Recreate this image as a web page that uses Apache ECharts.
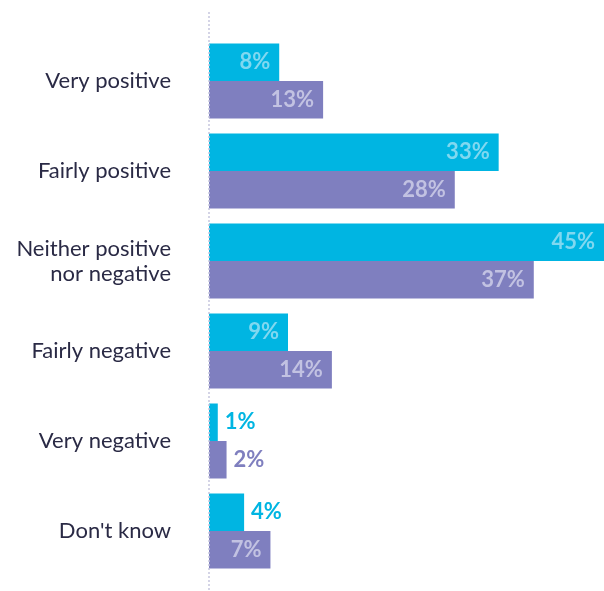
<!DOCTYPE html>
<html>
<head>
<meta charset="utf-8">
<script src="https://cdn.jsdelivr.net/npm/echarts@6/dist/echarts.min.js"></script>
<style>
  html, body { margin: 0; padding: 0; background: #fff; }
  #chart { width: 604px; height: 591px; }
</style>
</head>
<body>
<div id="chart"></div>
<script>
var categories = ['Very positive', 'Fairly positive', 'Neither positive\nnor negative', 'Fairly negative', 'Very negative', "Don't know"];
var seriesA = [8, 33, 45, 9, 1, 4];   // cyan
var seriesB = [13, 28, 37, 14, 2, 7]; // purple

var cyan = '#00b5e2';
var purple = '#7f7fbf';

var chart = echarts.init(document.getElementById('chart'));

function makeData(values, color, insideColor) {
    return values.map(function (v) {
        var small = v < 5;
        return {
            value: v,
            label: {
                position: small ? 'right' : 'insideRight',
                distance: small ? 7 : 9,
                color: small ? color : insideColor
            }
        };
    });
}

var labelFont = {
    show: true,
    formatter: '{c}%',
    fontFamily: 'Lato',
    fontWeight: 'bold',
    fontSize: 22
};

option = {
    animation: false,
    grid: {
        left: 209,
        right: 0,
        top: 36,
        height: 540
    },
    xAxis: {
        type: 'value',
        min: 0,
        max: 45,
        show: false
    },
    yAxis: {
        type: 'category',
        inverse: true,
        data: categories,
        axisLine: { show: false },
        axisTick: { show: false },
        axisLabel: {
            margin: 38,
            fontFamily: 'Lato',
            fontSize: 22,
            lineHeight: 25,
            color: '#2a2a45',
            align: 'right'
        }
    },
    graphic: [{
        type: 'line',
        shape: { x1: 209, y1: 12, x2: 209, y2: 590 },
        style: { stroke: '#c6c6de', lineWidth: 1.5, lineDash: [2, 2] },
        z: 10
    }],
    series: [{
        type: 'bar',
        barWidth: 37.5,
        barGap: '0%',
        itemStyle: { color: cyan },
        label: labelFont,
        data: makeData(seriesA, cyan, '#80d8f0')
    }, {
        type: 'bar',
        barWidth: 37.5,
        barGap: '0%',
        itemStyle: { color: purple },
        label: labelFont,
        data: makeData(seriesB, purple, '#c2c2e2')
    }]
};

chart.setOption(option);
</script>
</body>
</html>
